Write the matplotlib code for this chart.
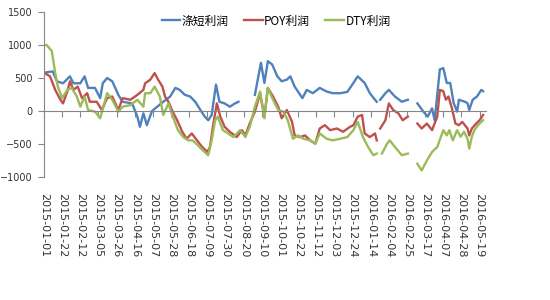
import numpy as np
import pandas as pd
import matplotlib.pyplot as plt
from matplotlib.font_manager import FontProperties

# 涤短利润 (blue)
psf_dates = ["2015-01-01", "2015-01-11", "2015-01-16", "2015-01-23", "2015-01-31", "2015-02-04",
             "2015-02-12", "2015-02-17", "2015-02-21", "2015-03-01", "2015-03-07", "2015-03-10",
             "2015-03-15", "2015-03-21", "2015-03-28", "2015-04-02", "2015-04-13", "2015-04-19",
             "2015-04-22", "2015-04-26", "2015-04-30", "2015-05-06", "2015-05-12", "2015-05-19",
             "2015-05-27", "2015-06-02", "2015-06-07", "2015-06-13", "2015-06-19", "2015-06-25",
             "2015-07-01", "2015-07-06", "2015-07-10", "2015-07-14", "2015-07-19", "2015-07-23",
             "2015-07-29", "2015-08-04", "2015-08-10", "2015-08-14", "2015-08-24", "2015-09-02",
             "2015-09-09", "2015-09-13", "2015-09-17", "2015-09-22", "2015-09-28", "2015-10-03",
             "2015-10-09", "2015-10-13", "2015-10-18", "2015-10-27", "2015-11-01", "2015-11-08",
             "2015-11-16", "2015-11-24", "2015-12-01", "2015-12-10", "2015-12-18", "2015-12-25",
             "2015-12-30", "2016-01-07", "2016-01-13", "2016-01-19", "2016-01-21", "2016-01-22",
             "2016-01-25", "2016-01-31", "2016-02-04", "2016-02-11", "2016-02-19", "2016-02-26",
             "2016-03-01", "2016-03-08", "2016-03-15", "2016-03-20", "2016-03-25", "2016-03-28",
             "2016-04-03", "2016-04-07", "2016-04-11", "2016-04-15", "2016-04-19", "2016-04-23",
             "2016-04-25", "2016-05-01", "2016-05-05", "2016-05-07", "2016-05-11", "2016-05-16",
             "2016-05-21", "2016-05-23"]
psf_profit = [580, 600, 450, 420, 525, 420,
              420, 525, 350, 350, 195, 420,
              500, 450, 245, 140, 115, -85,
              -240, -35, -215, 0, 65, 140,
              220, 350, 320, 245, 220, 140,
              15, -85, -140, -60, 400, 140,
              115, 65, 115, 140, None, 245,
              730, 425, 755, 705, 525, 450,
              475, 525, 370, 195, 320, 270,
              350, 295, 270, 270, 290, 425,
              525, 425, 270, 170, 140, None,
              170, 270, 320, 220, 140, 170,
              None, 115, -10, -85, 40, -140,
              630, 650, 425, 425, 120, -10,
              170, 145, 120, 15, 170, 220,
              320, 300]

# POY利润 (red)
poy_dates = ["2015-01-01", "2015-01-08", "2015-01-14", "2015-01-20", "2015-01-23", "2015-01-28",
             "2015-01-31", "2015-02-04", "2015-02-09", "2015-02-14", "2015-02-20", "2015-02-23",
             "2015-03-03", "2015-03-09", "2015-03-15", "2015-03-21", "2015-03-28", "2015-04-02",
             "2015-04-11", "2015-04-19", "2015-04-26", "2015-04-28", "2015-05-04", "2015-05-09",
             "2015-05-13", "2015-05-18", "2015-05-21", "2015-05-25", "2015-05-29", "2015-06-04",
             "2015-06-10", "2015-06-15", "2015-06-21", "2015-06-27", "2015-07-03", "2015-07-09",
             "2015-07-12", "2015-07-16", "2015-07-20", "2015-07-24", "2015-07-29", "2015-08-04",
             "2015-08-12", "2015-08-18", "2015-08-22", "2015-08-27", "2015-09-02", "2015-09-08",
             "2015-09-13", "2015-09-17", "2015-09-23", "2015-09-29", "2015-10-03", "2015-10-09",
             "2015-10-15", "2015-10-18", "2015-10-24", "2015-10-30", "2015-11-05", "2015-11-11",
             "2015-11-16", "2015-11-22", "2015-11-28", "2015-12-06", "2015-12-13", "2015-12-21",
             "2015-12-25", "2015-12-30", "2016-01-04", "2016-01-07", "2016-01-13", "2016-01-19",
             "2016-01-21", "2016-01-22", "2016-01-25", "2016-01-31", "2016-02-04", "2016-02-09",
             "2016-02-15", "2016-02-20", "2016-02-26", "2016-03-01", "2016-03-08", "2016-03-13",
             "2016-03-19", "2016-03-25", "2016-03-31", "2016-04-03", "2016-04-07", "2016-04-10",
             "2016-04-13", "2016-04-17", "2016-04-21", "2016-04-25", "2016-04-29", "2016-05-05",
             "2016-05-07", "2016-05-10", "2016-05-15", "2016-05-19", "2016-05-23"]
poy_profit = [580, 525, 320, 170, 115, 295,
              450, 320, 370, 195, 270, 140,
              140, 15, 195, 220, 15, 195,
              170, 245, 320, 420, 475, 575,
              475, 370, 220, 140, 15, -140,
              -315, -420, -340, -445, -545, -620,
              -545, -190, 115, -85, -240, -315,
              -395, -290, -370, -190, -10, 270,
              -85, 350, 220, 65, -110, 15,
              -165, -370, -395, -370, -445, -495,
              -265, -215, -290, -265, -315, -240,
              -215, -85, -60, -340, -395, -340,
              -445, None, -265, -140, 115, 15,
              -35, -140, -85, None, -190, -265,
              -190, -290, -85, 320, 300, 170,
              220, 40, -190, -215, -165, -265,
              -370, -265, -190, -140, -60]

# DTY利润 (green)
dty_dates = ["2015-01-01", "2015-01-04", "2015-01-10", "2015-01-14", "2015-01-17", "2015-01-22",
             "2015-01-28", "2015-02-02", "2015-02-08", "2015-02-12", "2015-02-17", "2015-02-21",
             "2015-03-01", "2015-03-07", "2015-03-15", "2015-03-21", "2015-03-28", "2015-04-02",
             "2015-04-11", "2015-04-19", "2015-04-26", "2015-04-28", "2015-05-04", "2015-05-09",
             "2015-05-15", "2015-05-19", "2015-05-25", "2015-05-30", "2015-06-05", "2015-06-11",
             "2015-06-17", "2015-06-22", "2015-06-28", "2015-07-04", "2015-07-10", "2015-07-14",
             "2015-07-18", "2015-07-21", "2015-07-27", "2015-08-02", "2015-08-08", "2015-08-16",
             "2015-08-22", "2015-08-27", "2015-09-02", "2015-09-08", "2015-09-13", "2015-09-17",
             "2015-09-23", "2015-09-29", "2015-10-05", "2015-10-10", "2015-10-16", "2015-10-22",
             "2015-10-28", "2015-11-05", "2015-11-11", "2015-11-16", "2015-11-24", "2015-12-01",
             "2015-12-10", "2015-12-18", "2015-12-25", "2015-12-30", "2016-01-05", "2016-01-11",
             "2016-01-17", "2016-01-21", "2016-01-24", "2016-01-27", "2016-02-02", "2016-02-05",
             "2016-02-11", "2016-02-19", "2016-02-26", "2016-03-01", "2016-03-08", "2016-03-13",
             "2016-03-19", "2016-03-25", "2016-03-31", "2016-04-07", "2016-04-11", "2016-04-14",
             "2016-04-18", "2016-04-23", "2016-04-27", "2016-05-01", "2016-05-05", "2016-05-07",
             "2016-05-10", "2016-05-13", "2016-05-17", "2016-05-23"]
dty_profit = [1000, 1000, 910, 576, 370, 195,
              320, 350, 220, 65, 220, 15,
              -10, -110, 270, 170, -10, 65,
              90, 170, 65, 270, 270, 370,
              220, -60, 115, -85, -290, -395,
              -445, -445, -520, -600, -670, -445,
              -140, -85, -290, -340, -395, -290,
              -395, -240, 65, 295, -110, 350,
              170, 15, -10, -140, -420, -370,
              -420, -445, -495, -340, -420, -445,
              -420, -395, -290, -165, -395, -545,
              -670, -645, None, -645, -495, -445,
              -545, -670, -645, None, -800, -900,
              -750, -620, -545, -290, -370, -290,
              -445, -290, -390, -315, -420, -570,
              -390, -290, -215, -140]

tick_labels = pd.date_range("2015-01-01", "2016-05-19", freq="21D")

series = [
    ("涤短利润", psf_dates, psf_profit, "#4F81BD"),
    ("POY利润", poy_dates, poy_profit, "#C0504D"),
    ("DTY利润", dty_dates, dty_profit, "#9BBB59"),
]

fig = plt.figure(figsize=(5.5, 3), dpi=100)
ax = fig.add_axes([0.08, 0.41, 0.803, 0.55])

for name, d, v, c in series:
    vals = np.array([np.nan if x is None else x for x in v], dtype=float)
    ax.plot(pd.to_datetime(d), vals, color=c, lw=1.7, label=name)

ax.set_xlim(pd.Timestamp("2015-01-01"), pd.Timestamp("2016-05-26"))
ax.set_ylim(-1000, 1500)
ax.set_yticks(range(-1000, 1501, 500))
ax.set_xticks(tick_labels)
ax.set_xticklabels([t.strftime("%Y-%m-%d") for t in tick_labels])

axis_col = "#868686"
for s in ["top", "right"]:
    ax.spines[s].set_visible(False)
ax.spines["left"].set_color(axis_col)
ax.spines["bottom"].set_color(axis_col)
ax.spines["bottom"].set_position(("data", 0))

ax.tick_params(axis="y", direction="out", length=4, color=axis_col, pad=4,
               labelsize=7, labelcolor="#333333")
ax.tick_params(axis="x", direction="out", length=4, color=axis_col, pad=55,
               labelsize=8, labelcolor="#333333", labelrotation=-90)

fig.legend(loc="center", bbox_to_anchor=(0.502, 0.93), ncol=3, frameon=False,
           prop=FontProperties(family=["Noto Sans CJK SC", "DejaVu Sans"], size=8.5),
           handlelength=1.6, handletextpad=0.1, columnspacing=1.3)

fig.savefig("out.png", dpi=100)
